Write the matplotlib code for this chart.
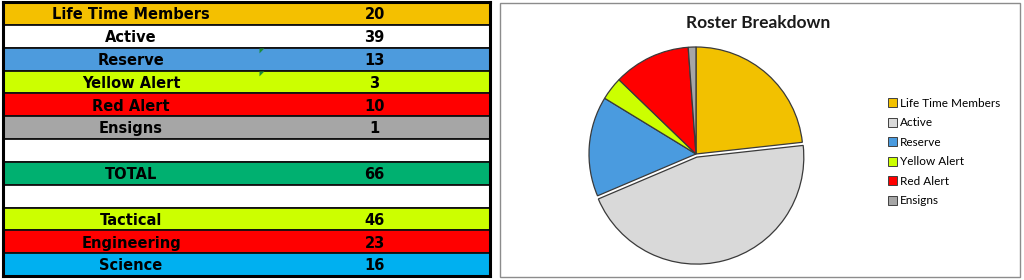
import matplotlib
matplotlib.use('Agg')
import matplotlib.pyplot as plt
from matplotlib.patches import Rectangle

# Roster numbers as typed in the sheet
roster_labels = ['Life Time Members', 'Active', 'Reserve', 'Yellow Alert', 'Red Alert', 'Ensigns']
roster_counts = [20, 39, 13, 3, 10, 1]
roster_colors = ['#F2C100', '#D9D9D9', '#4A9BDF', '#CCFF00', '#FF0000', '#A6A6A6']
row_fills = ['#F4C000', '#FFFFFF', '#4D9BDD', '#CCFF00', '#FF0000', '#A6A6A6']

total_label = 'TOTAL'
total_count = 66
total_fill = '#00B070'

division_labels = ['Tactical', 'Engineering', 'Science']
division_counts = [46, 23, 16]
division_fills = ['#CCFF00', '#FF0000', '#00B0F0']

flagged_rows = ['Reserve', 'Yellow Alert']   # cells with the green comment marker


def build_rows():
    labels, values, fills = [], [], []
    for lab, val, col in zip(roster_labels, roster_counts, row_fills):
        labels.append(lab)
        values.append(str(val))
        fills.append(col)
    labels += ['', total_label, '']
    values += ['', str(total_count), '']
    fills += ['#FFFFFF', total_fill, '#FFFFFF']
    for lab, val, col in zip(division_labels, division_counts, division_fills):
        labels.append(lab)
        values.append(str(val))
        fills.append(col)
    return labels, values, fills


fig = plt.figure(figsize=(10.24, 2.8), dpi=100)
W, H = 1024.0, 280.0

# ---- table on the left
labels, values, fills = build_rows()
n = len(labels)
split = 0.526

tab_ax = fig.add_axes([3 / W, 1 - 276 / H, 487 / W, 274 / H])
tab_ax.barh(range(n), 1.0, height=1.0, left=0, color=fills, edgecolor='#111111', linewidth=1.3)
tab_ax.set_xlim(0, 1)
tab_ax.set_ylim(n - 0.5, -0.5)
tab_ax.set_xticks([])
tab_ax.set_yticks([])
for sp in tab_ax.spines.values():
    sp.set_linewidth(2.2)
    sp.set_color('black')
    sp.set_zorder(10)

for i, (lab, val) in enumerate(zip(labels, values)):
    tab_ax.text(split / 2, i + 0.06, lab, ha='center', va='center', fontsize=10.5,
                fontweight='bold', family='DejaVu Sans', color='black')
    tab_ax.text(split + (1 - split) / 2, i + 0.06, val, ha='center', va='center', fontsize=10.5,
                fontweight='bold', family='DejaVu Sans', color='black')
    if lab in flagged_rows:
        tab_ax.plot([split], [i - 0.5], marker=[(0, 0), (1, 0), (0, -1)], markersize=7,
                    color='#1E8C3A', markeredgewidth=0, zorder=11)

# ---- chart box on the right
fig.add_artist(Rectangle((500 / W, 1 - 277 / H), 520 / W, 274 / H, transform=fig.transFigure,
                         fill=False, edgecolor='#8C8C8C', linewidth=1.0))

fig.text(758 / W, 1 - 23 / H, 'Roster Breakdown', ha='center', va='center',
         fontsize=12.5, fontweight='bold', family='Lato', color='#1A1A1A')

R = 107.0
span = 2.2 * R
pie_ax = fig.add_axes([(696 - span / 2) / W, 1 - (154 + span / 2) / H, span / W, span / H])
explode = [0.03 if lab == 'Active' else 0 for lab in roster_labels]
wedges, _ = pie_ax.pie(roster_counts, colors=roster_colors, startangle=90, counterclock=False,
                       explode=explode,
                       wedgeprops=dict(edgecolor='#3A3A3A', linewidth=0.9))
pie_ax.set_xlim(-1.1, 1.1)
pie_ax.set_ylim(-1.1, 1.1)
pie_ax.set_aspect('equal')

leg = fig.legend(wedges, roster_labels, loc='upper left', bbox_to_anchor=(882 / W, 1 - 92 / H),
                 frameon=False, prop=dict(family='Lato', size=8.5), handlelength=0.75,
                 handleheight=0.75, handletextpad=0.3, labelspacing=0.72, borderpad=0)
for h in leg.legend_handles:
    h.set_edgecolor('#404040')
    h.set_linewidth(0.7)

fig.savefig('out.png', dpi=100)
